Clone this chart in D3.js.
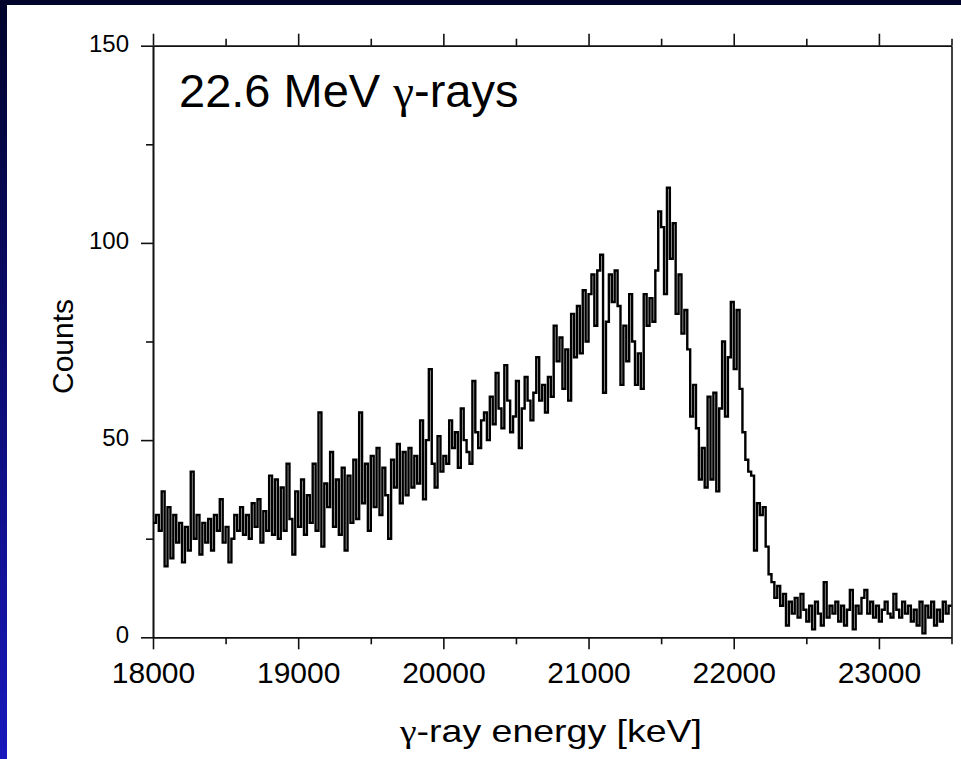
<!DOCTYPE html>
<html>
<head>
<meta charset="utf-8">
<script src="https://cdn.jsdelivr.net/npm/d3@7/dist/d3.min.js"></script>
<style>
  html, body { margin: 0; padding: 0; background: #fff; }
  svg { display: block; }
  text { font-family: "Liberation Sans", Arial, sans-serif; fill: #000; }
</style>
</head>
<body>
<svg id="chart" width="961" height="759"></svg>
<script>
// Spectrum: counts per 20 keV bin, starting at 18000 keV
const binStart = 18000;
const binWidth = 20;
const counts = [
  29, 31, 27, 37, 18,   33, 20, 31, 24, 29,   19, 28, 22, 42, 25,   31, 21, 29, 24, 30,
  22, 31, 27, 35, 24,   28, 19, 25, 31, 27,   33, 26, 31, 25, 34,   28, 35, 24, 32, 27,
  41, 26, 40, 25, 38,   27, 44, 30, 21, 37,   28, 40, 26, 36, 29,   44, 27, 57, 23, 39,
  33, 47, 28, 40, 26,   43, 22, 41, 29, 45,   30, 57, 34, 44, 27,   46, 33, 48, 31, 43,
  36, 25, 45, 38, 49,   34, 47, 36, 48, 38,   46, 39, 55, 35, 50,   68, 44, 38, 51, 42,
  46, 44, 55, 48, 52,   43, 58, 50, 47, 44,   65, 52, 48, 55, 57,   50, 61, 54, 67, 58,
  53, 69, 60, 52, 56,   65, 48, 58, 66, 60,   55, 62, 71, 60, 64,   57, 66, 61, 79, 70,
  76, 63, 73, 60, 82,   71, 84, 72, 88, 75,   87, 92, 79, 93, 97,   62, 80, 92, 85, 93,
  84, 64, 79, 70, 87,   75, 64, 72, 63, 87,   79, 86, 80, 93, 108,  104, 87, 114, 96, 105,
  82, 92, 77, 83, 73,   56, 64, 53, 40, 48,   38, 61, 40, 62, 37,   58, 75, 56, 71, 85,
  68, 83, 63, 52, 45,   42, 41, 22, 34, 31,   33, 23, 16, 14, 10,   13, 8, 11, 3, 9,
  6, 10, 5, 11, 7,      4, 8, 2, 9, 6,        3, 14, 5, 8, 6,       9, 4, 8, 3, 7,
  12, 2, 8, 6, 10,      12, 6, 9, 5, 8,       4, 7, 9, 6, 5,        11, 7, 5, 9, 6,
  8, 4, 7, 3, 9,        1, 8, 5, 9, 3,        7, 4, 9, 6, 8
];

const xMajorTicks = [18000, 19000, 20000, 21000, 22000, 23000];
const xMinorTicks = [18500, 19500, 20500, 21500, 22500, 23500];
const yMajorTicks = [0, 50, 100, 150];
const yMinorTicks = [25, 75, 125];

const svg = d3.select("#chart");
const W = 961, H = 759;

// slide backdrop: dark band on top, blue gradient strip on the left
const defs = svg.append("defs");
const grad = defs.append("linearGradient")
  .attr("id", "sideGrad").attr("x1", 0).attr("y1", 0).attr("x2", 0).attr("y2", 1);
grad.append("stop").attr("offset", "0%").attr("stop-color", "#00032a");
grad.append("stop").attr("offset", "45%").attr("stop-color", "#0b0b6e");
grad.append("stop").attr("offset", "100%").attr("stop-color", "#1818bc");
svg.append("rect").attr("x", 0).attr("y", 0).attr("width", 7).attr("height", H).attr("fill", "url(#sideGrad)");
svg.append("rect").attr("x", 0).attr("y", 0).attr("width", W).attr("height", 5).attr("fill", "#00032a");

const x = d3.scaleLinear().domain([18000, 23500]).range([153, 951.5]);
const y = d3.scaleLinear().domain([0, 150]).range([637.3, 45.7]);

const axisColor = "#111";

function styleAxis(g) {
  g.selectAll("path.domain").attr("stroke", axisColor).attr("stroke-width", 1.6);
  g.selectAll(".tick line").attr("stroke", axisColor).attr("stroke-width", 1.6);
}

// bottom axis
const gBottom = svg.append("g").attr("transform", `translate(0,${y(0)})`)
  .call(d3.axisBottom(x).tickValues(xMajorTicks).tickSize(12).tickSizeOuter(0)
    .tickFormat(d3.format("d")));
gBottom.selectAll(".tick text")
  .attr("y", 45.7).attr("dy", 0)
  .style("font-size", "30px").style("font-family", '"Liberation Sans", Arial, sans-serif').attr("fill", "#000");
styleAxis(gBottom);
const gBottomMinor = svg.append("g").attr("transform", `translate(0,${y(0)})`)
  .call(d3.axisBottom(x).tickValues(xMinorTicks).tickSize(7).tickSizeOuter(0).tickFormat(""));
styleAxis(gBottomMinor);

// top axis (ticks only)
const gTop = svg.append("g").attr("transform", `translate(0,${y(150)})`)
  .call(d3.axisTop(x).tickValues(xMajorTicks).tickSize(12).tickSizeOuter(0).tickFormat(""));
styleAxis(gTop);
const gTopMinor = svg.append("g").attr("transform", `translate(0,${y(150)})`)
  .call(d3.axisTop(x).tickValues(xMinorTicks).tickSize(7).tickSizeOuter(0).tickFormat(""));
styleAxis(gTopMinor);

// left axis
const gLeft = svg.append("g").attr("transform", `translate(${x(18000)},0)`)
  .call(d3.axisLeft(y).tickValues(yMajorTicks).tickSize(12).tickSizeOuter(0).tickPadding(12)
    .tickFormat(d3.format("d")));
gLeft.selectAll(".tick text")
  .attr("dy", "5.5px")
  .style("font-size", "24px").style("font-family", '"Liberation Sans", Arial, sans-serif').attr("fill", "#000");
styleAxis(gLeft);
const gLeftMinor = svg.append("g").attr("transform", `translate(${x(18000)},0)`)
  .call(d3.axisLeft(y).tickValues(yMinorTicks).tickSize(7).tickSizeOuter(0).tickFormat(""));
styleAxis(gLeftMinor);

// right frame line
const gRight = svg.append("g").attr("transform", `translate(${x(23500)},0)`)
  .call(d3.axisRight(y).tickValues([]).tickSizeOuter(0));
styleAxis(gRight);

// histogram as a step line
const pts = counts.map((c, i) => [binStart + i * binWidth, c]);
pts.push([binStart + counts.length * binWidth, counts[counts.length - 1]]);
const line = d3.line().x(d => x(d[0])).y(d => y(d[1])).curve(d3.curveStepAfter);
svg.append("path")
  .datum(pts)
  .attr("d", line)
  .attr("fill", "none")
  .attr("stroke", "#000")
  .attr("stroke-width", 2.4)
  .attr("stroke-linejoin", "miter");

// in-plot label
const title = svg.append("text")
  .attr("x", 179).attr("y", 106.5)
  .style("font-size", "47px");
title.append("tspan").text("22.6 MeV ");
title.append("tspan").style("font-family", '"Liberation Serif", "DejaVu Serif", serif').text("γ");
title.append("tspan").text("-rays");

// axis titles
const xTitle = svg.append("text")
  .attr("x", 400).attr("y", 741.5)
  .attr("textLength", 302).attr("lengthAdjust", "spacingAndGlyphs")
  .style("font-size", "32px");
xTitle.append("tspan").style("font-family", '"Liberation Serif", "DejaVu Serif", serif').text("γ");
xTitle.append("tspan").text("-ray energy [keV]");

svg.append("text")
  .attr("transform", "translate(73,346.5) rotate(-90)")
  .attr("text-anchor", "middle")
  .style("font-size", "30px")
  .text("Counts");
</script>
</body>
</html>
